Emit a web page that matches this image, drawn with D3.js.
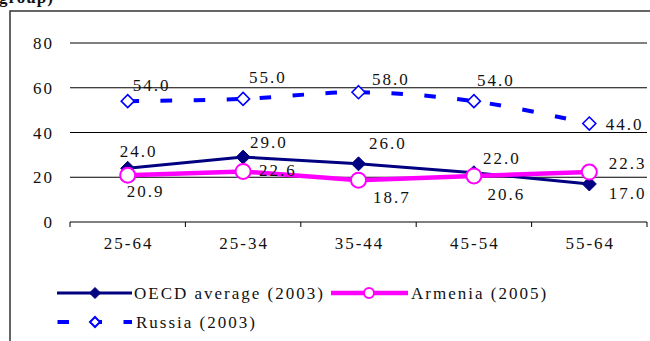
<!DOCTYPE html>
<html>
<head>
<meta charset="utf-8">
<script src="https://cdn.jsdelivr.net/npm/d3@7"></script>
<style>
  html, body { margin: 0; padding: 0; background: #fff; }
  svg { display: block; }
  text { font-family: "Liberation Serif", "Times New Roman", serif; fill: #111; }
</style>
</head>
<body>
<svg id="chart" width="650" height="341"></svg>
<script>
// ---- data ----
const categories = ["25-64", "25-34", "35-44", "45-54", "55-64"];
const oecdValues = [24.0, 29.0, 26.0, 22.0, 17.0];
const armeniaValues = [20.9, 22.6, 18.7, 20.6, 22.3];
const russiaValues = [54.0, 55.0, 58.0, 54.0, 44.0];
const yTicks = [0, 20, 40, 60, 80];
const seriesNames = ["OECD average (2003)", "Armenia (2005)", "Russia (2003)"];

// ---- label placement (offsets from marker: left edge dx, centre dy) ----
const oecdLabelOffsets = [[-8, -17], [7, -15], [10.5, -21], [9, -15], [19.5, 9]];
const armeniaLabelOffsets = [[-1, 16], [16, -1], [14.5, 17], [13.5, 18], [19.5, -9.5]];
const russiaLabelOffsets = [[5, -16], [6, -22], [13.5, -13], [3, -21], [16.5, 0]];

const svg = d3.select("#chart");
const plot = { left: 70, right: 647, top: 43, bottom: 222 };

const x = d3.scaleBand().domain(categories).range([plot.left, plot.right]).padding(0);
const cx = d => x(d) + x.bandwidth() / 2;
const y = d3.scaleLinear().domain([0, 80]).range([plot.bottom, plot.top]);

// title fragment (cut off at top)
svg.append("text").attr("x", -1).attr("y", 3)
  .style("font-weight", "bold").style("font-size", "17px").style("letter-spacing", "1px")
  .text("group)");

// outer border (left and top visible)
svg.append("path").attr("d", "M10,342 L10,11 L652,11")
  .attr("fill", "none").attr("stroke", "#333").attr("stroke-width", 1.5);

// gridlines
svg.append("g").selectAll("line").data(yTicks.filter(t => t > 0)).join("line")
  .attr("x1", plot.left).attr("x2", plot.right)
  .attr("y1", d => y(d)).attr("y2", d => y(d))
  .attr("stroke", "#000").attr("stroke-width", 1);

// y labels
svg.append("g").selectAll("text").data(yTicks).join("text")
  .attr("x", 54).attr("y", d => y(d) + 6)
  .attr("text-anchor", "end")
  .style("font-size", "17px").style("letter-spacing", "2px")
  .text(d => d);

// x axis
const xAxis = d3.axisBottom(x).tickSize(0).tickFormat(d => d);
const gx = svg.append("g").attr("transform", `translate(0,${plot.bottom})`).call(xAxis);
gx.select(".domain").remove();
gx.selectAll("text").remove();
svg.append("line").attr("x1", plot.left).attr("x2", plot.right)
  .attr("y1", plot.bottom).attr("y2", plot.bottom).attr("stroke", "#000").attr("stroke-width", 1);
const boundaries = categories.map(c => x(c)).concat([x(categories[categories.length - 1]) + x.bandwidth()]);
svg.append("g").selectAll("line").data(boundaries).join("line")
  .attr("x1", d => d).attr("x2", d => d)
  .attr("y1", plot.bottom).attr("y2", plot.bottom + 5)
  .attr("stroke", "#000").attr("stroke-width", 1);
svg.append("g").selectAll("text").data(categories).join("text")
  .attr("x", d => cx(d) + 1).attr("y", 249)
  .attr("text-anchor", "middle")
  .style("font-size", "17px").style("letter-spacing", "2px")
  .text(d => d);

// ---- series ----
const diamond = s => `M0,${-s} L${s},0 L0,${s} L${-s},0 Z`;

// Russia
const russiaLine = d3.line().x((d, i) => cx(categories[i])).y(d => y(d))
  .curve(d3.curveCardinal.tension(0));
svg.append("path").datum(russiaValues).attr("d", russiaLine)
  .attr("fill", "none").attr("stroke", "#0000ff").attr("stroke-width", 4)
  .attr("stroke-dasharray", "11.5,21.5");
svg.append("g").selectAll("path").data(russiaValues).join("path")
  .attr("d", diamond(6.5))
  .attr("transform", (d, i) => `translate(${cx(categories[i])},${y(d)})`)
  .attr("fill", "#fff").attr("stroke", "#0000ff").attr("stroke-width", 1.6);

// OECD
const straight = d3.line().x((d, i) => cx(categories[i])).y(d => y(d));
svg.append("path").datum(oecdValues).attr("d", straight)
  .attr("fill", "none").attr("stroke", "#000080").attr("stroke-width", 3);
svg.append("g").selectAll("path").data(oecdValues).join("path")
  .attr("d", diamond(7))
  .attr("transform", (d, i) => `translate(${cx(categories[i])},${y(d)})`)
  .attr("fill", "#000080").attr("stroke", "#000080").attr("stroke-width", 1);

// Armenia
svg.append("path").datum(armeniaValues).attr("d", straight)
  .attr("fill", "none").attr("stroke", "#ff00ff").attr("stroke-width", 4.5);
svg.append("g").selectAll("circle").data(armeniaValues).join("circle")
  .attr("cx", (d, i) => cx(categories[i])).attr("cy", d => y(d)).attr("r", 7.5)
  .attr("fill", "#fff").attr("stroke", "#ff00ff").attr("stroke-width", 2);

// data labels
function labels(values, offsets) {
  svg.append("g").selectAll("text").data(values).join("text")
    .attr("x", (d, i) => cx(categories[i]) + offsets[i][0])
    .attr("y", (d, i) => y(d) + offsets[i][1] + 6)
    .style("font-size", "17px").style("letter-spacing", "2px")
    .text(d => d.toFixed(1));
}
labels(russiaValues, russiaLabelOffsets);
labels(oecdValues, oecdLabelOffsets);
labels(armeniaValues, armeniaLabelOffsets);

// ---- legend ----
const lg = svg.append("g");
// OECD
lg.append("line").attr("x1", 57).attr("x2", 132).attr("y1", 293).attr("y2", 293)
  .attr("stroke", "#000080").attr("stroke-width", 3);
lg.append("path").attr("d", diamond(5.5)).attr("transform", "translate(95,293)")
  .attr("fill", "#000080").attr("stroke", "#000080");
lg.append("text").attr("x", 134).attr("y", 299)
  .style("font-size", "17px").style("letter-spacing", "2px").text(seriesNames[0]);
// Armenia
lg.append("line").attr("x1", 331).attr("x2", 408).attr("y1", 293).attr("y2", 293)
  .attr("stroke", "#ff00ff").attr("stroke-width", 4.5);
lg.append("circle").attr("cx", 369).attr("cy", 293).attr("r", 5)
  .attr("fill", "#fff").attr("stroke", "#ff00ff").attr("stroke-width", 2);
lg.append("text").attr("x", 411).attr("y", 299)
  .style("font-size", "17px").style("letter-spacing", "2px").text(seriesNames[1]);
// Russia
lg.append("line").attr("x1", 57.5).attr("x2", 132).attr("y1", 322).attr("y2", 322)
  .attr("stroke", "#0000ff").attr("stroke-width", 4)
  .attr("stroke-dasharray", "11.5,21.5");
lg.append("path").attr("d", diamond(5)).attr("transform", "translate(95,322)")
  .attr("fill", "#fff").attr("stroke", "#0000ff").attr("stroke-width", 2);
lg.append("text").attr("x", 136).attr("y", 328)
  .style("font-size", "17px").style("letter-spacing", "2px").text(seriesNames[2]);
</script>
</body>
</html>
